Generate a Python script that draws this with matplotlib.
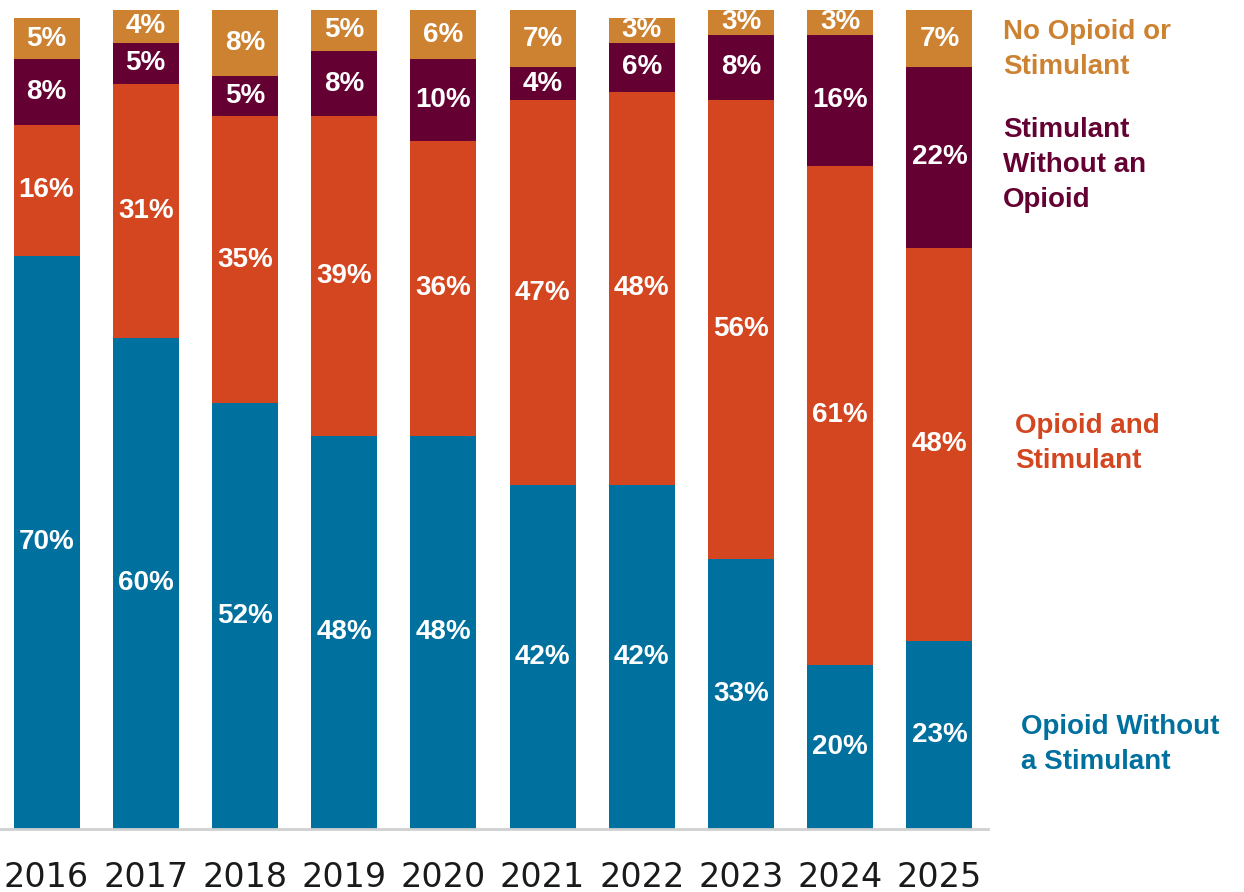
import matplotlib.pyplot as plt
import numpy as np
from matplotlib import transforms

# share of deaths by substance group, per year (percent)
years = ['2016', '2017', '2018', '2019', '2020', '2021', '2022', '2023', '2024', '2025']
opioid_only = [70, 60, 52, 48, 48, 42, 42, 33, 20, 23]
opioid_and_stim = [16, 31, 35, 39, 36, 47, 48, 56, 61, 48]
stim_only = [8, 5, 5, 8, 10, 4, 6, 8, 16, 22]
neither = [5, 4, 8, 5, 6, 7, 3, 3, 3, 7]

series = [opioid_only, opioid_and_stim, stim_only, neither]
names = ['Opioid Without\na Stimulant', 'Opioid and\nStimulant',
         'Stimulant\nWithout an\nOpioid', 'No Opioid or\nStimulant']
colors = ['#00709F', '#D3461F', '#640032', '#CC8230']
name_x = [9.82, 9.76, 9.64, 9.64]
name_dy = [-10, 1, -8, -11]  # nudge in pixels

plt.rcParams['font.family'] = ['Liberation Sans', 'DejaVu Sans']

fig = plt.figure(figsize=(12.44, 8.92), dpi=100)
ax = fig.add_axes([0, 63 / 892, 988 / 1244, 819 / 892])

x = np.arange(len(years))
bottom = np.zeros(len(years))
for vals, col in zip(series, colors):
    vals = np.array(vals, dtype=float)
    ax.bar(x, vals, bottom=bottom, width=0.665, color=col, edgecolor='none')
    for xi, b, v in zip(x, bottom, vals):
        ax.text(xi, b + v / 2, f'{int(v)}%', ha='center', va='center',
                color='white', fontsize=20, fontweight='bold')
    bottom += vals

# series names beside the last bar, centred on its segments
last_bottom = 0
for vals, col, name, nx, dy in zip(series, colors, names, name_x, name_dy):
    shift = transforms.offset_copy(ax.transData, fig=fig, x=0, y=dy, units='dots')
    ax.text(nx, last_bottom + vals[-1] / 2, name, ha='left', va='center',
            color=col, fontsize=20, fontweight='bold', linespacing=1.45,
            transform=shift, clip_on=False)
    last_bottom += vals[-1]

ax.set_xlim(-0.469, 9.49)
ax.set_ylim(0, 100)
ax.set_xticks(x)
ax.set_xticklabels(years, fontsize=24, color='#1a1a1a', family='DejaVu Sans')
ax.tick_params(axis='x', length=0, pad=23)
ax.set_yticks([])
for s in ['top', 'right', 'left']:
    ax.spines[s].set_visible(False)
ax.spines['bottom'].set_color('#d0d0d0')
ax.spines['bottom'].set_linewidth(2)

fig.savefig('out.png', dpi=100)
